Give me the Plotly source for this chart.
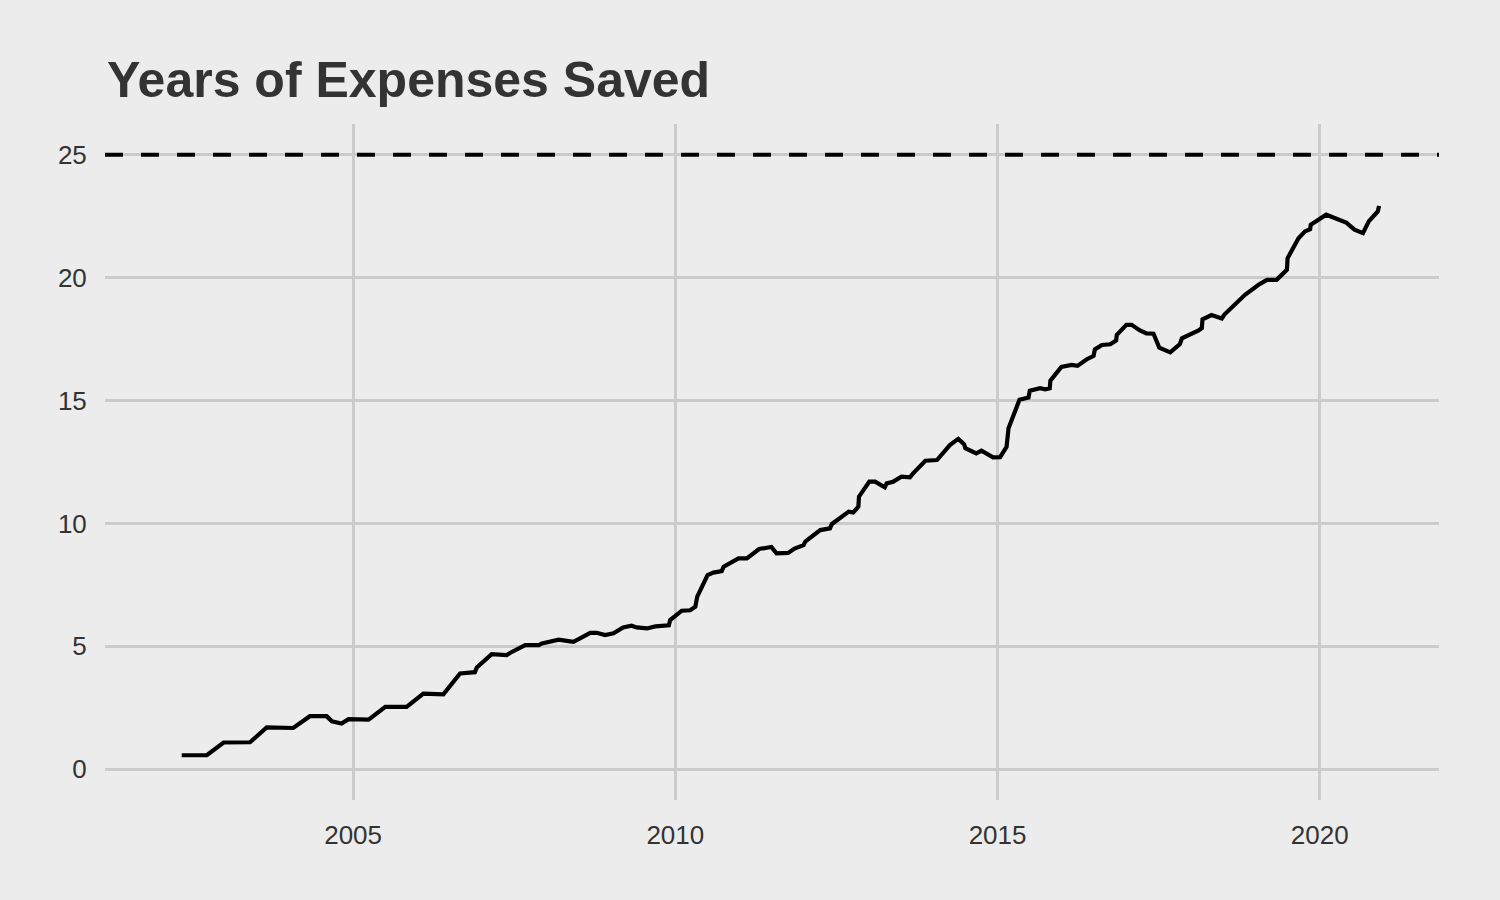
import plotly.graph_objects as go

# Years of expenses saved (decimal year, value)
years = [
    2002.34, 2002.73, 2002.99, 2003.40, 2003.66, 2004.07, 2004.33, 2004.59, 2004.67, 2004.82,
    2004.93, 2005.24, 2005.50, 2005.83, 2006.09, 2006.40, 2006.66, 2006.89, 2006.92, 2007.15,
    2007.38, 2007.44, 2007.67, 2007.88, 2007.93, 2008.06, 2008.19, 2008.34, 2008.42, 2008.68,
    2008.78, 2008.91, 2009.04, 2009.19, 2009.32, 2009.40, 2009.56, 2009.69, 2009.90, 2009.92,
    2010.10, 2010.23, 2010.31, 2010.34, 2010.50, 2010.59, 2010.72, 2010.75, 2010.98, 2011.11,
    2011.16, 2011.30, 2011.49, 2011.57, 2011.75, 2011.85, 2011.99, 2012.02, 2012.25, 2012.40,
    2012.43, 2012.69, 2012.76, 2012.84, 2012.85, 2013.01, 2013.10, 2013.25, 2013.28, 2013.38,
    2013.51, 2013.64, 2013.69, 2013.88, 2014.06, 2014.26, 2014.39, 2014.48, 2014.50, 2014.67,
    2014.75, 2014.93, 2015.04, 2015.14, 2015.17, 2015.34, 2015.48, 2015.50, 2015.66, 2015.74,
    2015.81, 2015.82, 2015.99, 2016.15, 2016.24, 2016.38, 2016.49, 2016.51, 2016.62, 2016.75,
    2016.84, 2016.85, 2017.00, 2017.08, 2017.21, 2017.31, 2017.42, 2017.48, 2017.51, 2017.68,
    2017.83, 2017.86, 2017.99, 2018.12, 2018.17, 2018.18, 2018.32, 2018.48, 2018.52, 2018.77,
    2018.84, 2019.05, 2019.18, 2019.33, 2019.49, 2019.50, 2019.67, 2019.77, 2019.85, 2019.86,
    2020.10, 2020.20, 2020.41, 2020.54, 2020.67, 2020.76, 2020.90, 2020.92,
]
years_saved = [
    0.57, 0.57, 1.09, 1.10, 1.70, 1.68, 2.16, 2.16, 1.95, 1.86,
    2.04, 2.02, 2.54, 2.54, 3.08, 3.05, 3.90, 3.95, 4.14, 4.68,
    4.64, 4.74, 5.05, 5.05, 5.12, 5.18, 5.27, 5.21, 5.18, 5.55,
    5.55, 5.46, 5.53, 5.77, 5.84, 5.77, 5.73, 5.81, 5.86, 6.07,
    6.45, 6.47, 6.61, 7.02, 7.90, 8.00, 8.06, 8.24, 8.58, 8.58,
    8.67, 8.96, 9.04, 8.78, 8.80, 8.98, 9.12, 9.27, 9.73, 9.80,
    9.98, 10.48, 10.45, 10.68, 11.09, 11.70, 11.70, 11.47, 11.63, 11.70,
    11.90, 11.88, 12.04, 12.55, 12.58, 13.19, 13.44, 13.23, 13.06, 12.85,
    12.96, 12.69, 12.70, 13.12, 13.87, 15.03, 15.12, 15.40, 15.50, 15.46,
    15.50, 15.81, 16.37, 16.45, 16.41, 16.67, 16.82, 17.08, 17.26, 17.29,
    17.44, 17.67, 18.08, 18.08, 17.85, 17.73, 17.72, 17.33, 17.15, 16.96,
    17.30, 17.53, 17.67, 17.85, 17.95, 18.30, 18.48, 18.34, 18.50, 19.14,
    19.30, 19.71, 19.91, 19.91, 20.32, 20.79, 21.60, 21.88, 21.97, 22.15,
    22.56, 22.46, 22.24, 21.95, 21.81, 22.29, 22.69, 22.92,
]

target = 25  # the dashed goal line
x_ticks = [2005, 2010, 2015, 2020]
y_ticks = [0, 5, 10, 15, 20, 25]

bg = '#ECECEC'
grid = '#CBCBCB'
text_col = '#333333'

fig = go.Figure()

fig.add_trace(go.Scatter(x=years, y=years_saved, mode='lines',
                         line=dict(color='black', width=4.2),
                         hoverinfo='x+y', showlegend=False))

# goal line across the whole panel
fig.add_shape(type='line', xref='paper', x0=0, x1=1, yref='y', y0=target, y1=target,
              line=dict(color='black', width=4.2, dash='18px,18px'))

fig.update_layout(
    width=1500, height=900,
    paper_bgcolor=bg, plot_bgcolor=bg,
    margin=dict(l=105, r=61, t=124, b=100),
    font=dict(family='Liberation Sans, Arial, sans-serif', size=26, color=text_col),
    title=dict(text='<b>Years of Expenses Saved</b>',
               font=dict(size=50, color=text_col),
               xref='container', x=107 / 1500, xanchor='left',
               yref='container', y=1 - 79 / 900, yanchor='middle'),
    xaxis=dict(range=[2001.15, 2021.85], tickvals=x_ticks,
               showgrid=True, gridcolor=grid, gridwidth=2.5,
               zeroline=False, showline=False,
               ticks='outside', ticklen=12, tickcolor='rgba(0,0,0,0)'),
    yaxis=dict(range=[-1.25, 26.25], tickvals=y_ticks,
               showgrid=True, gridcolor=grid, gridwidth=2.5,
               zeroline=False, showline=False,
               ticks='outside', ticklen=12, tickcolor='rgba(0,0,0,0)'),
)

# drop the default page margin so the figure sits at the window's corner
fig.write_html('out.html', config={'displayModeBar': False},
               post_script="document.body.style.margin='0';")
